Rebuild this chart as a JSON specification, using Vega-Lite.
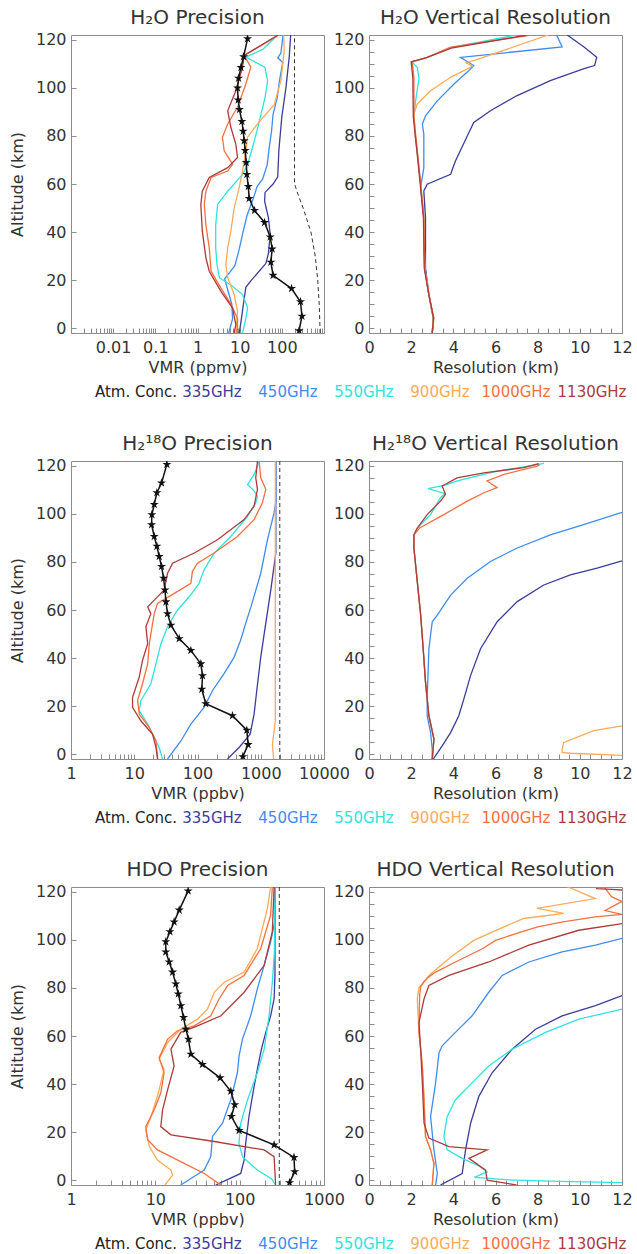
{
"$schema": "https://vega.github.io/schema/vega-lite/v6.json",
"background": "white",
"padding": {"left": 8, "right": 0, "top": 7, "bottom": 2},
"config": {
 "font": "DejaVu Sans",
 "view": {"stroke": "#8c8c8c", "strokeWidth": 1},
 "axis": {"domain": false, "grid": false, "tickColor": "#8c8c8c", "tickWidth": 1, "tickSize": -5, "labelPadding": 10, "labelFontSize": 16, "labelColor": "#333333", "titleFontSize": 16, "titleFontWeight": "normal", "titleColor": "#333333", "labelOverlap": false, "labelFlush": false},
 "title": {"fontSize": 20, "fontWeight": "normal", "color": "#333333", "offset": 4, "frame": "group"}
},
"datasets": {
 "h2oP": [
  {"series":"335GHz","alt":-2,"val":9.8},{"series":"335GHz","alt":4,"val":11},{"series":"335GHz","alt":11,"val":12.5},{"series":"335GHz","alt":17,"val":14},{"series":"335GHz","alt":20,"val":19},{"series":"335GHz","alt":24,"val":30},{"series":"335GHz","alt":27,"val":42},{"series":"335GHz","alt":31,"val":48},{"series":"335GHz","alt":39,"val":53},{"series":"335GHz","alt":46,"val":48},{"series":"335GHz","alt":53,"val":39},{"series":"335GHz","alt":56.5,"val":40},{"series":"335GHz","alt":60,"val":62},{"series":"335GHz","alt":63,"val":80},{"series":"335GHz","alt":74,"val":85},{"series":"335GHz","alt":88,"val":100},{"series":"335GHz","alt":100,"val":125},{"series":"335GHz","alt":113,"val":150},{"series":"335GHz","alt":122,"val":162},
  {"series":"450GHz","alt":-2,"val":5.5},{"series":"450GHz","alt":4,"val":6.8},{"series":"450GHz","alt":10,"val":6.5},{"series":"450GHz","alt":16,"val":5.2},{"series":"450GHz","alt":20.5,"val":4.4},{"series":"450GHz","alt":26,"val":7.7},{"series":"450GHz","alt":33,"val":9.8},{"series":"450GHz","alt":40,"val":12},{"series":"450GHz","alt":47,"val":15},{"series":"450GHz","alt":54,"val":21},{"series":"450GHz","alt":59,"val":26},{"series":"450GHz","alt":62,"val":35},{"series":"450GHz","alt":68,"val":45},{"series":"450GHz","alt":75,"val":50},{"series":"450GHz","alt":82,"val":57},{"series":"450GHz","alt":89,"val":62},{"series":"450GHz","alt":96,"val":78},{"series":"450GHz","alt":103,"val":88},{"series":"450GHz","alt":110.6,"val":105},{"series":"450GHz","alt":112.5,"val":80},{"series":"450GHz","alt":114.5,"val":95},{"series":"450GHz","alt":122,"val":107},
  {"series":"550GHz","alt":-2,"val":11.7},{"series":"550GHz","alt":4,"val":14},{"series":"550GHz","alt":8.5,"val":15.4},{"series":"550GHz","alt":14,"val":11.7},{"series":"550GHz","alt":18,"val":6.2},{"series":"550GHz","alt":21,"val":3.3},{"series":"550GHz","alt":26.5,"val":2.9},{"series":"550GHz","alt":33.5,"val":2.7},{"series":"550GHz","alt":43,"val":2.7},{"series":"550GHz","alt":51.5,"val":3},{"series":"550GHz","alt":57,"val":5.2},{"series":"550GHz","alt":64,"val":11.7},{"series":"550GHz","alt":68,"val":15.4},{"series":"550GHz","alt":75,"val":20},{"series":"550GHz","alt":82,"val":25.6},{"series":"550GHz","alt":89,"val":32},{"series":"550GHz","alt":96,"val":40},{"series":"550GHz","alt":103,"val":46},{"series":"550GHz","alt":108.6,"val":39.6},{"series":"550GHz","alt":112.8,"val":14},{"series":"550GHz","alt":116,"val":35},{"series":"550GHz","alt":122,"val":80},
  {"series":"900GHz","alt":-2,"val":8.1},{"series":"900GHz","alt":7,"val":8.9},{"series":"900GHz","alt":14,"val":7.4},{"series":"900GHz","alt":21,"val":5.2},{"series":"900GHz","alt":26.5,"val":4.7},{"series":"900GHz","alt":33.5,"val":5.2},{"series":"900GHz","alt":40.5,"val":6.2},{"series":"900GHz","alt":50,"val":7.4},{"series":"900GHz","alt":58.5,"val":9.75},{"series":"900GHz","alt":65.5,"val":11.7},{"series":"900GHz","alt":74,"val":14},{"series":"900GHz","alt":79.5,"val":15.4},{"series":"900GHz","alt":85,"val":26.5},{"series":"900GHz","alt":93,"val":66},{"series":"900GHz","alt":103,"val":95},{"series":"900GHz","alt":115.5,"val":114},{"series":"900GHz","alt":122,"val":110},
  {"series":"1000GHz","alt":-2,"val":8.9},{"series":"1000GHz","alt":4,"val":8.9},{"series":"1000GHz","alt":10,"val":6.2},{"series":"1000GHz","alt":16.7,"val":3.6},{"series":"1000GHz","alt":23.7,"val":2.1},{"series":"1000GHz","alt":33.4,"val":1.9},{"series":"1000GHz","alt":43,"val":1.58},{"series":"1000GHz","alt":51.5,"val":1.45},{"series":"1000GHz","alt":57,"val":1.58},{"series":"1000GHz","alt":62.7,"val":2.1},{"series":"1000GHz","alt":65.4,"val":5.2},{"series":"1000GHz","alt":68.2,"val":6.8},{"series":"1000GHz","alt":73.8,"val":4.3},{"series":"1000GHz","alt":79.4,"val":3.9},{"series":"1000GHz","alt":85,"val":5.2},{"series":"1000GHz","alt":92,"val":8.9},{"series":"1000GHz","alt":101.6,"val":14},{"series":"1000GHz","alt":108.6,"val":18.4},{"series":"1000GHz","alt":113.5,"val":12.8},{"series":"1000GHz","alt":122,"val":85},
  {"series":"1130GHz","alt":-2,"val":7.4},{"series":"1130GHz","alt":1.5,"val":8.1},{"series":"1130GHz","alt":8.4,"val":6.8},{"series":"1130GHz","alt":15.3,"val":3.6},{"series":"1130GHz","alt":23.7,"val":1.9},{"series":"1130GHz","alt":29.3,"val":1.58},{"series":"1130GHz","alt":40.4,"val":1.3},{"series":"1130GHz","alt":51.5,"val":1.2},{"series":"1130GHz","alt":57,"val":1.3},{"series":"1130GHz","alt":62.7,"val":1.9},{"series":"1130GHz","alt":66.8,"val":5.2},{"series":"1130GHz","alt":71,"val":8.9},{"series":"1130GHz","alt":76.6,"val":8.1},{"series":"1130GHz","alt":83.5,"val":6.2},{"series":"1130GHz","alt":90.5,"val":5.2},{"series":"1130GHz","alt":98.8,"val":8.1},{"series":"1130GHz","alt":108.6,"val":11.7},{"series":"1130GHz","alt":113.5,"val":12.8},{"series":"1130GHz","alt":122,"val":82},
  {"series":"ref","alt":-2,"val":810},{"series":"ref","alt":10,"val":770},{"series":"ref","alt":20,"val":710},{"series":"ref","alt":30,"val":620},{"series":"ref","alt":40,"val":490},{"series":"ref","alt":50,"val":320},{"series":"ref","alt":55,"val":250},{"series":"ref","alt":60,"val":200},{"series":"ref","alt":122,"val":200},
  {"series":"Atm. Conc.","alt":-1,"val":257},{"series":"Atm. Conc.","alt":5,"val":300},{"series":"Atm. Conc.","alt":11,"val":277},{"series":"Atm. Conc.","alt":16.5,"val":170},{"series":"Atm. Conc.","alt":22,"val":62},{"series":"Atm. Conc.","alt":27.5,"val":55},{"series":"Atm. Conc.","alt":33,"val":59},{"series":"Atm. Conc.","alt":38,"val":53},{"series":"Atm. Conc.","alt":44,"val":39},{"series":"Atm. Conc.","alt":49,"val":22.5},{"series":"Atm. Conc.","alt":54,"val":16.8},{"series":"Atm. Conc.","alt":59,"val":16},{"series":"Atm. Conc.","alt":64,"val":14.8},{"series":"Atm. Conc.","alt":69,"val":14.3},{"series":"Atm. Conc.","alt":74,"val":13.5},{"series":"Atm. Conc.","alt":78,"val":12.8},{"series":"Atm. Conc.","alt":82,"val":12.1},{"series":"Atm. Conc.","alt":86,"val":11.3},{"series":"Atm. Conc.","alt":91,"val":9.9},{"series":"Atm. Conc.","alt":95,"val":9.2},{"series":"Atm. Conc.","alt":100,"val":8.9},{"series":"Atm. Conc.","alt":104,"val":9.4},{"series":"Atm. Conc.","alt":108.5,"val":10.7},{"series":"Atm. Conc.","alt":113,"val":12.4},{"series":"Atm. Conc.","alt":120.5,"val":15.4}
 ],
 "h2oR": [
  {"series":"335GHz","alt":-2,"val":3.0},{"series":"335GHz","alt":4.2,"val":3.05},{"series":"335GHz","alt":14,"val":2.84},{"series":"335GHz","alt":25,"val":2.68},{"series":"335GHz","alt":46,"val":2.68},{"series":"335GHz","alt":57.1,"val":2.6},{"series":"335GHz","alt":59.9,"val":2.76},{"series":"335GHz","alt":64,"val":3.87},{"series":"335GHz","alt":66,"val":3.95},{"series":"335GHz","alt":69.6,"val":4.1},{"series":"335GHz","alt":81.4,"val":4.74},{"series":"335GHz","alt":85.6,"val":4.97},{"series":"335GHz","alt":90.5,"val":5.76},{"series":"335GHz","alt":96.7,"val":7.0},{"series":"335GHz","alt":103,"val":8.6},{"series":"335GHz","alt":108,"val":10.2},{"series":"335GHz","alt":109.3,"val":10.7},{"series":"335GHz","alt":112.7,"val":10.8},{"series":"335GHz","alt":117,"val":10.2},{"series":"335GHz","alt":122,"val":9.4},
  {"series":"450GHz","alt":-2,"val":3.0},{"series":"450GHz","alt":4.2,"val":3.05},{"series":"450GHz","alt":14,"val":2.84},{"series":"450GHz","alt":25,"val":2.64},{"series":"450GHz","alt":46,"val":2.6},{"series":"450GHz","alt":58.5,"val":2.45},{"series":"450GHz","alt":66.8,"val":2.6},{"series":"450GHz","alt":80.7,"val":2.6},{"series":"450GHz","alt":84.9,"val":2.53},{"series":"450GHz","alt":88.4,"val":2.68},{"series":"450GHz","alt":94.6,"val":3.24},{"series":"450GHz","alt":101.6,"val":4.03},{"series":"450GHz","alt":107.2,"val":4.74},{"series":"450GHz","alt":109.3,"val":4.97},{"series":"450GHz","alt":112.7,"val":4.34},{"series":"450GHz","alt":117,"val":9.16},{"series":"450GHz","alt":122,"val":8.9},
  {"series":"550GHz","alt":-2,"val":3.0},{"series":"550GHz","alt":4.2,"val":3.05},{"series":"550GHz","alt":14,"val":2.84},{"series":"550GHz","alt":25,"val":2.64},{"series":"550GHz","alt":46,"val":2.6},{"series":"550GHz","alt":60,"val":2.45},{"series":"550GHz","alt":74,"val":2.29},{"series":"550GHz","alt":80,"val":2.2},{"series":"550GHz","alt":88,"val":2.13},{"series":"550GHz","alt":94.6,"val":2.21},{"series":"550GHz","alt":104,"val":2.37},{"series":"550GHz","alt":108.6,"val":2.29},{"series":"550GHz","alt":110.7,"val":2.05},{"series":"550GHz","alt":112.7,"val":2.76},{"series":"550GHz","alt":117,"val":4.0},{"series":"550GHz","alt":122,"val":7.0},
  {"series":"900GHz","alt":-2,"val":3.0},{"series":"900GHz","alt":4.2,"val":3.05},{"series":"900GHz","alt":14,"val":2.84},{"series":"900GHz","alt":25,"val":2.64},{"series":"900GHz","alt":46,"val":2.6},{"series":"900GHz","alt":60,"val":2.45},{"series":"900GHz","alt":80,"val":2.2},{"series":"900GHz","alt":89.1,"val":2.13},{"series":"900GHz","alt":93.3,"val":2.29},{"series":"900GHz","alt":98.8,"val":2.92},{"series":"900GHz","alt":104.4,"val":3.87},{"series":"900GHz","alt":109,"val":4.9},{"series":"900GHz","alt":110.5,"val":4.6},{"series":"900GHz","alt":111.4,"val":5.0},{"series":"900GHz","alt":122,"val":8.5},
  {"series":"1000GHz","alt":-2,"val":3.0},{"series":"1000GHz","alt":4.2,"val":3.08},{"series":"1000GHz","alt":14,"val":2.84},{"series":"1000GHz","alt":25,"val":2.64},{"series":"1000GHz","alt":46,"val":2.6},{"series":"1000GHz","alt":59.9,"val":2.45},{"series":"1000GHz","alt":73.8,"val":2.29},{"series":"1000GHz","alt":88,"val":2.13},{"series":"1000GHz","alt":104.4,"val":2.13},{"series":"1000GHz","alt":110.9,"val":2.05},{"series":"1000GHz","alt":112.7,"val":2.76},{"series":"1000GHz","alt":117,"val":3.87},{"series":"1000GHz","alt":122,"val":7.7},
  {"series":"1130GHz","alt":-2,"val":3.0},{"series":"1130GHz","alt":4.2,"val":3.06},{"series":"1130GHz","alt":14,"val":2.84},{"series":"1130GHz","alt":25,"val":2.62},{"series":"1130GHz","alt":46,"val":2.58},{"series":"1130GHz","alt":59.9,"val":2.43},{"series":"1130GHz","alt":73.8,"val":2.27},{"series":"1130GHz","alt":88,"val":2.1},{"series":"1130GHz","alt":104,"val":2.08},{"series":"1130GHz","alt":110.9,"val":2.0},{"series":"1130GHz","alt":112.5,"val":2.7},{"series":"1130GHz","alt":116.5,"val":3.9},{"series":"1130GHz","alt":122,"val":7.5}
 ],
 "h218oP": [
  {"series":"335GHz","alt":-2,"val":298},{"series":"335GHz","alt":2.8,"val":455},{"series":"335GHz","alt":8.3,"val":680},{"series":"335GHz","alt":16.7,"val":785},{"series":"335GHz","alt":26.5,"val":865},{"series":"335GHz","alt":40.4,"val":1000},{"series":"335GHz","alt":54.4,"val":1200},{"series":"335GHz","alt":68.3,"val":1440},{"series":"335GHz","alt":83.7,"val":1730},{"series":"335GHz","alt":122,"val":1730},
  {"series":"450GHz","alt":-2,"val":33.6},{"series":"450GHz","alt":5.5,"val":54.6},{"series":"450GHz","alt":12.5,"val":78.5},{"series":"450GHz","alt":19.5,"val":127},{"series":"450GHz","alt":26.5,"val":173},{"series":"450GHz","alt":33.5,"val":263},{"series":"450GHz","alt":40.4,"val":380},{"series":"450GHz","alt":47.4,"val":480},{"series":"450GHz","alt":55.8,"val":600},{"series":"450GHz","alt":61.3,"val":700},{"series":"450GHz","alt":75.3,"val":1000},{"series":"450GHz","alt":89.2,"val":1275},{"series":"450GHz","alt":100.4,"val":1625},{"series":"450GHz","alt":105,"val":1730},{"series":"450GHz","alt":122,"val":1730},
  {"series":"550GHz","alt":-2,"val":28},{"series":"550GHz","alt":2.8,"val":24.8},{"series":"550GHz","alt":7,"val":20.7},{"series":"550GHz","alt":12.5,"val":16.3},{"series":"550GHz","alt":18.1,"val":12},{"series":"550GHz","alt":22.3,"val":12.7},{"series":"550GHz","alt":29.3,"val":18.3},{"series":"550GHz","alt":37.6,"val":22},{"series":"550GHz","alt":46,"val":26.4},{"series":"550GHz","alt":53,"val":33.6},{"series":"550GHz","alt":59.9,"val":48},{"series":"550GHz","alt":65.5,"val":74},{"series":"550GHz","alt":71.1,"val":106},{"series":"550GHz","alt":76.7,"val":127},{"series":"550GHz","alt":83.7,"val":183},{"series":"550GHz","alt":90.6,"val":336},{"series":"550GHz","alt":99,"val":617},{"series":"550GHz","alt":104.6,"val":834},{"series":"550GHz","alt":107.4,"val":887},{"series":"550GHz","alt":110,"val":760},{"series":"550GHz","alt":112.2,"val":617},{"series":"550GHz","alt":116.4,"val":785},{"series":"550GHz","alt":122,"val":950},
  {"series":"900GHz","alt":-2,"val":1600},{"series":"900GHz","alt":4,"val":1530},{"series":"900GHz","alt":9.7,"val":1625},{"series":"900GHz","alt":14,"val":1700},{"series":"900GHz","alt":122,"val":1700},
  {"series":"1000GHz","alt":-2,"val":23.4},{"series":"1000GHz","alt":5.6,"val":22},{"series":"1000GHz","alt":11.1,"val":17.3},{"series":"1000GHz","alt":16.7,"val":12},{"series":"1000GHz","alt":22.3,"val":11.3},{"series":"1000GHz","alt":29.3,"val":13.5},{"series":"1000GHz","alt":37.6,"val":16.3},{"series":"1000GHz","alt":46,"val":17.3},{"series":"1000GHz","alt":54.4,"val":19.5},{"series":"1000GHz","alt":58.5,"val":20.7},{"series":"1000GHz","alt":62.7,"val":23.3},{"series":"1000GHz","alt":66.9,"val":43},{"series":"1000GHz","alt":71.1,"val":78.5},{"series":"1000GHz","alt":76,"val":83},{"series":"1000GHz","alt":79.5,"val":100},{"series":"1000GHz","alt":83.7,"val":183},{"series":"1000GHz","alt":90.6,"val":428},{"series":"1000GHz","alt":97.6,"val":785},{"series":"1000GHz","alt":104.6,"val":1062},{"series":"1000GHz","alt":110.2,"val":1200},{"series":"1000GHz","alt":115,"val":1000},{"series":"1000GHz","alt":122,"val":942},
  {"series":"1130GHz","alt":-2,"val":23.4},{"series":"1130GHz","alt":2.8,"val":22},{"series":"1130GHz","alt":8.3,"val":19.5},{"series":"1130GHz","alt":13.9,"val":12.7},{"series":"1130GHz","alt":19.5,"val":9.4},{"series":"1130GHz","alt":23.7,"val":9.4},{"series":"1130GHz","alt":32.1,"val":12},{"series":"1130GHz","alt":39,"val":13.5},{"series":"1130GHz","alt":46,"val":16.3},{"series":"1130GHz","alt":53,"val":15.3},{"series":"1130GHz","alt":58.5,"val":18.3},{"series":"1130GHz","alt":61.3,"val":16.3},{"series":"1130GHz","alt":64.1,"val":20.7},{"series":"1130GHz","alt":68.3,"val":29.8},{"series":"1130GHz","alt":75.3,"val":33.6},{"series":"1130GHz","alt":79.5,"val":40.4},{"series":"1130GHz","alt":83.7,"val":89},{"series":"1130GHz","alt":89.2,"val":207},{"series":"1130GHz","alt":97.6,"val":546},{"series":"1130GHz","alt":103.2,"val":785},{"series":"1130GHz","alt":110.2,"val":887},{"series":"1130GHz","alt":115,"val":834},{"series":"1130GHz","alt":122,"val":887},
  {"series":"ref","alt":-2,"val":2000},{"series":"ref","alt":122,"val":2000},
  {"series":"Atm. Conc.","alt":-1,"val":520},{"series":"Atm. Conc.","alt":4,"val":632},{"series":"Atm. Conc.","alt":10,"val":602},{"series":"Atm. Conc.","alt":16,"val":357},{"series":"Atm. Conc.","alt":21,"val":135},{"series":"Atm. Conc.","alt":27,"val":117},{"series":"Atm. Conc.","alt":32.7,"val":120},{"series":"Atm. Conc.","alt":37.6,"val":113},{"series":"Atm. Conc.","alt":43.2,"val":78.5},{"series":"Atm. Conc.","alt":48.1,"val":51.4},{"series":"Atm. Conc.","alt":53.7,"val":38},{"series":"Atm. Conc.","alt":58.5,"val":33.6},{"series":"Atm. Conc.","alt":63.4,"val":31.7},{"series":"Atm. Conc.","alt":68.3,"val":30.6},{"series":"Atm. Conc.","alt":73.2,"val":29.1},{"series":"Atm. Conc.","alt":78.1,"val":27},{"series":"Atm. Conc.","alt":82.3,"val":24.8},{"series":"Atm. Conc.","alt":86.5,"val":22.8},{"series":"Atm. Conc.","alt":90.6,"val":20.7},{"series":"Atm. Conc.","alt":95.5,"val":18.8},{"series":"Atm. Conc.","alt":99.7,"val":19},{"series":"Atm. Conc.","alt":103.9,"val":20.7},{"series":"Atm. Conc.","alt":108.8,"val":22.8},{"series":"Atm. Conc.","alt":112.9,"val":27},{"series":"Atm. Conc.","alt":120.6,"val":32.8}
 ],
 "h218oR": [
  {"series":"335GHz","alt":-2,"val":3.05},{"series":"335GHz","alt":3.5,"val":3.47},{"series":"335GHz","alt":9,"val":3.87},{"series":"335GHz","alt":16,"val":4.26},{"series":"335GHz","alt":23,"val":4.5},{"series":"335GHz","alt":32.8,"val":4.82},{"series":"335GHz","alt":43.9,"val":5.29},{"series":"335GHz","alt":55.1,"val":6.08},{"series":"335GHz","alt":63.5,"val":7.03},{"series":"335GHz","alt":70.4,"val":8.29},{"series":"335GHz","alt":74.6,"val":9.55},{"series":"335GHz","alt":77.4,"val":10.82},{"series":"335GHz","alt":80.2,"val":11.92},{"series":"335GHz","alt":81.5,"val":12.5},
  {"series":"450GHz","alt":-2,"val":3.0},{"series":"450GHz","alt":2.1,"val":3.0},{"series":"450GHz","alt":9,"val":2.92},{"series":"450GHz","alt":16,"val":2.76},{"series":"450GHz","alt":23,"val":2.76},{"series":"450GHz","alt":43.9,"val":2.84},{"series":"450GHz","alt":55.1,"val":3.0},{"series":"450GHz","alt":57.9,"val":3.24},{"series":"450GHz","alt":66.2,"val":3.87},{"series":"450GHz","alt":73.2,"val":4.66},{"series":"450GHz","alt":80.2,"val":5.76},{"series":"450GHz","alt":85.8,"val":7.03},{"series":"450GHz","alt":91.3,"val":8.6},{"series":"450GHz","alt":95.5,"val":10.18},{"series":"450GHz","alt":100.4,"val":11.92},{"series":"450GHz","alt":101,"val":12.5},
  {"series":"550GHz","alt":-2,"val":3.0},{"series":"550GHz","alt":6.3,"val":3.08},{"series":"550GHz","alt":16,"val":2.84},{"series":"550GHz","alt":30,"val":2.68},{"series":"550GHz","alt":43.9,"val":2.57},{"series":"550GHz","alt":57.9,"val":2.45},{"series":"550GHz","alt":71.8,"val":2.29},{"series":"550GHz","alt":85.8,"val":2.13},{"series":"550GHz","alt":91.3,"val":2.13},{"series":"550GHz","alt":94.1,"val":2.29},{"series":"550GHz","alt":99.7,"val":2.92},{"series":"550GHz","alt":106.7,"val":3.39},{"series":"550GHz","alt":108.5,"val":3.6},{"series":"550GHz","alt":110.5,"val":2.8},{"series":"550GHz","alt":112,"val":3.6},{"series":"550GHz","alt":113.7,"val":4.18},{"series":"550GHz","alt":117.8,"val":6.08},{"series":"550GHz","alt":120.6,"val":8.05},{"series":"550GHz","alt":121,"val":8.3},
  {"series":"900GHz","alt":14,"val":12.5},{"series":"900GHz","alt":11.8,"val":12.0},{"series":"900GHz","alt":9.8,"val":10.66},{"series":"900GHz","alt":4.9,"val":9.24},{"series":"900GHz","alt":2.1,"val":9.16},{"series":"900GHz","alt":0.7,"val":9.16},{"series":"900GHz","alt":0.4,"val":9.55},{"series":"900GHz","alt":-0.5,"val":12.0},{"series":"900GHz","alt":-0.7,"val":12.5},
  {"series":"1000GHz","alt":-2,"val":3.0},{"series":"1000GHz","alt":6.3,"val":3.08},{"series":"1000GHz","alt":16,"val":2.84},{"series":"1000GHz","alt":30,"val":2.68},{"series":"1000GHz","alt":43.9,"val":2.57},{"series":"1000GHz","alt":57.9,"val":2.45},{"series":"1000GHz","alt":71.8,"val":2.29},{"series":"1000GHz","alt":85.8,"val":2.13},{"series":"1000GHz","alt":91.3,"val":2.13},{"series":"1000GHz","alt":94.1,"val":2.4},{"series":"1000GHz","alt":99.7,"val":3.55},{"series":"1000GHz","alt":105.3,"val":4.66},{"series":"1000GHz","alt":108.8,"val":5.45},{"series":"1000GHz","alt":110.9,"val":6.08},{"series":"1000GHz","alt":113.7,"val":5.6},{"series":"1000GHz","alt":116.4,"val":6.4},{"series":"1000GHz","alt":119.9,"val":7.97},{"series":"1000GHz","alt":120.5,"val":8.1},
  {"series":"1130GHz","alt":-2,"val":3.0},{"series":"1130GHz","alt":6.3,"val":3.08},{"series":"1130GHz","alt":16,"val":2.84},{"series":"1130GHz","alt":30,"val":2.68},{"series":"1130GHz","alt":43.9,"val":2.57},{"series":"1130GHz","alt":57.9,"val":2.45},{"series":"1130GHz","alt":71.8,"val":2.29},{"series":"1130GHz","alt":85.8,"val":2.13},{"series":"1130GHz","alt":91.3,"val":2.13},{"series":"1130GHz","alt":94.1,"val":2.29},{"series":"1130GHz","alt":99.7,"val":2.76},{"series":"1130GHz","alt":105.3,"val":3.39},{"series":"1130GHz","alt":108.1,"val":3.63},{"series":"1130GHz","alt":111.6,"val":3.47},{"series":"1130GHz","alt":115,"val":4.18},{"series":"1130GHz","alt":117.1,"val":5.45},{"series":"1130GHz","alt":119.2,"val":7.34},{"series":"1130GHz","alt":120.9,"val":8.05}
 ],
 "hdoP": [
  {"series":"335GHz","alt":-2,"val":52},{"series":"335GHz","alt":2.8,"val":103},{"series":"335GHz","alt":8.4,"val":113},{"series":"335GHz","alt":15.4,"val":118},{"series":"335GHz","alt":26.5,"val":129},{"series":"335GHz","alt":37.7,"val":146},{"series":"335GHz","alt":46.1,"val":162},{"series":"335GHz","alt":54.5,"val":181},{"series":"335GHz","alt":61.5,"val":204},{"series":"335GHz","alt":68.4,"val":233},{"series":"335GHz","alt":75.4,"val":256},{"series":"335GHz","alt":85,"val":262},{"series":"335GHz","alt":122,"val":262},
  {"series":"450GHz","alt":-2,"val":20},{"series":"450GHz","alt":0.7,"val":26.4},{"series":"450GHz","alt":4.2,"val":38},{"series":"450GHz","alt":9.8,"val":45.5},{"series":"450GHz","alt":18.2,"val":47.6},{"series":"450GHz","alt":23.7,"val":62.6},{"series":"450GHz","alt":33.5,"val":78.5},{"series":"450GHz","alt":44.7,"val":94},{"series":"450GHz","alt":51.7,"val":98.4},{"series":"450GHz","alt":58.7,"val":108},{"series":"450GHz","alt":68.4,"val":135},{"series":"450GHz","alt":79.6,"val":162},{"series":"450GHz","alt":89.4,"val":195},{"series":"450GHz","alt":99.2,"val":233},{"series":"450GHz","alt":108,"val":262},{"series":"450GHz","alt":122,"val":262},
  {"series":"550GHz","alt":-2,"val":267},{"series":"550GHz","alt":0.5,"val":240},{"series":"550GHz","alt":4.2,"val":162},{"series":"550GHz","alt":9.8,"val":108},{"series":"550GHz","alt":15.4,"val":98},{"series":"550GHz","alt":23.7,"val":103},{"series":"550GHz","alt":33.5,"val":124},{"series":"550GHz","alt":44.7,"val":162},{"series":"550GHz","alt":54.5,"val":195},{"series":"550GHz","alt":68.4,"val":223},{"series":"550GHz","alt":82.4,"val":244},{"series":"550GHz","alt":95,"val":258},{"series":"550GHz","alt":122,"val":262},
  {"series":"900GHz","alt":-2,"val":13},{"series":"900GHz","alt":2.1,"val":16},{"series":"900GHz","alt":4.2,"val":15.3},{"series":"900GHz","alt":8.4,"val":10.6},{"series":"900GHz","alt":14,"val":8.5},{"series":"900GHz","alt":20.9,"val":7.7},{"series":"900GHz","alt":26.5,"val":8.9},{"series":"900GHz","alt":34.9,"val":10.6},{"series":"900GHz","alt":46.1,"val":12.7},{"series":"900GHz","alt":50.3,"val":11.1},{"series":"900GHz","alt":57.3,"val":14},{"series":"900GHz","alt":62.8,"val":20},{"series":"900GHz","alt":67,"val":31.6},{"series":"900GHz","alt":71.2,"val":41.5},{"series":"900GHz","alt":78.2,"val":50},{"series":"900GHz","alt":82.4,"val":65.5},{"series":"900GHz","alt":86.6,"val":113},{"series":"900GHz","alt":96.4,"val":162},{"series":"900GHz","alt":113,"val":213},{"series":"900GHz","alt":122,"val":233},
  {"series":"1000GHz","alt":-2,"val":60},{"series":"1000GHz","alt":2.8,"val":38},{"series":"1000GHz","alt":7,"val":22},{"series":"1000GHz","alt":12.6,"val":10.6},{"series":"1000GHz","alt":16.8,"val":8.1},{"series":"1000GHz","alt":22.3,"val":7.7},{"series":"1000GHz","alt":29.3,"val":9.7},{"series":"1000GHz","alt":36.3,"val":11.6},{"series":"1000GHz","alt":44.7,"val":12.7},{"series":"1000GHz","alt":51,"val":11.1},{"series":"1000GHz","alt":58.7,"val":14},{"series":"1000GHz","alt":62.2,"val":18.3},{"series":"1000GHz","alt":64.2,"val":28.9},{"series":"1000GHz","alt":68.4,"val":45.5},{"series":"1000GHz","alt":75.4,"val":57},{"series":"1000GHz","alt":81,"val":72},{"series":"1000GHz","alt":85.2,"val":113},{"series":"1000GHz","alt":96.4,"val":178},{"series":"1000GHz","alt":110.3,"val":233},{"series":"1000GHz","alt":122,"val":244},
  {"series":"1130GHz","alt":-2,"val":267},{"series":"1130GHz","alt":9.8,"val":256},{"series":"1130GHz","alt":12.6,"val":195},{"series":"1130GHz","alt":16.1,"val":50},{"series":"1130GHz","alt":18.9,"val":15.3},{"series":"1130GHz","alt":22.3,"val":11.6},{"series":"1130GHz","alt":29.3,"val":12.2},{"series":"1130GHz","alt":37.7,"val":14},{"series":"1130GHz","alt":47.5,"val":16.7},{"series":"1130GHz","alt":54.5,"val":15.3},{"series":"1130GHz","alt":61.5,"val":20},{"series":"1130GHz","alt":64.2,"val":31.6},{"series":"1130GHz","alt":68.4,"val":60},{"series":"1130GHz","alt":78.2,"val":113},{"series":"1130GHz","alt":89.4,"val":195},{"series":"1130GHz","alt":103.4,"val":244},{"series":"1130GHz","alt":122,"val":256},
  {"series":"ref","alt":-2,"val":295},{"series":"ref","alt":122,"val":295},
  {"series":"Atm. Conc.","alt":-1,"val":390},{"series":"Atm. Conc.","alt":3.5,"val":449},{"series":"Atm. Conc.","alt":9.5,"val":441},{"series":"Atm. Conc.","alt":14.7,"val":256},{"series":"Atm. Conc.","alt":20.7,"val":98.4},{"series":"Atm. Conc.","alt":26.5,"val":79.8},{"series":"Atm. Conc.","alt":31.4,"val":87.5},{"series":"Atm. Conc.","alt":37,"val":78.5},{"series":"Atm. Conc.","alt":42.6,"val":58.6},{"series":"Atm. Conc.","alt":48.2,"val":36.2},{"series":"Atm. Conc.","alt":52.4,"val":26.4},{"series":"Atm. Conc.","alt":58.7,"val":24.7},{"series":"Atm. Conc.","alt":62.8,"val":23},{"series":"Atm. Conc.","alt":67.7,"val":21.6},{"series":"Atm. Conc.","alt":72.6,"val":20.1},{"series":"Atm. Conc.","alt":77.5,"val":18.7},{"series":"Atm. Conc.","alt":81.7,"val":17.5},{"series":"Atm. Conc.","alt":86.6,"val":16},{"series":"Atm. Conc.","alt":90.8,"val":14.6},{"series":"Atm. Conc.","alt":95,"val":13.3},{"series":"Atm. Conc.","alt":99.2,"val":13.3},{"series":"Atm. Conc.","alt":103.4,"val":14.9},{"series":"Atm. Conc.","alt":107.5,"val":16.7},{"series":"Atm. Conc.","alt":112.4,"val":19.2},{"series":"Atm. Conc.","alt":120.4,"val":24.5}
 ],
 "hdoR": [
  {"series":"335GHz","alt":-2,"val":3.39},{"series":"335GHz","alt":2.8,"val":4.42},{"series":"335GHz","alt":12.6,"val":4.58},{"series":"335GHz","alt":23.7,"val":4.82},{"series":"335GHz","alt":34.9,"val":5.21},{"series":"335GHz","alt":44.7,"val":5.84},{"series":"335GHz","alt":54.5,"val":6.79},{"series":"335GHz","alt":62.8,"val":7.9},{"series":"335GHz","alt":68.4,"val":9.16},{"series":"335GHz","alt":72.6,"val":10.74},{"series":"335GHz","alt":76.8,"val":12.0},{"series":"335GHz","alt":78,"val":12.5},
  {"series":"450GHz","alt":-2,"val":3.16},{"series":"450GHz","alt":2.8,"val":3.24},{"series":"450GHz","alt":12.6,"val":3.08},{"series":"450GHz","alt":26.5,"val":2.92},{"series":"450GHz","alt":40.5,"val":3.16},{"series":"450GHz","alt":53,"val":3.32},{"series":"450GHz","alt":55.9,"val":3.47},{"series":"450GHz","alt":61.5,"val":4.1},{"series":"450GHz","alt":68.4,"val":4.89},{"series":"450GHz","alt":78.2,"val":5.68},{"series":"450GHz","alt":85.2,"val":6.32},{"series":"450GHz","alt":90.8,"val":7.58},{"series":"450GHz","alt":95,"val":9.16},{"series":"450GHz","alt":97.8,"val":10.74},{"series":"450GHz","alt":100.6,"val":12.0},{"series":"450GHz","alt":101.5,"val":12.5},
  {"series":"550GHz","alt":-1.2,"val":12.5},{"series":"550GHz","alt":-1,"val":12},{"series":"550GHz","alt":-0.5,"val":9},{"series":"550GHz","alt":0.2,"val":6.5},{"series":"550GHz","alt":1.2,"val":5.0},{"series":"550GHz","alt":3.5,"val":5.6},{"series":"550GHz","alt":6,"val":5.2},{"series":"550GHz","alt":9.1,"val":4.42},{"series":"550GHz","alt":12.6,"val":3.71},{"series":"550GHz","alt":18.2,"val":3.55},{"series":"550GHz","alt":26.5,"val":3.71},{"series":"550GHz","alt":33.5,"val":4.1},{"series":"550GHz","alt":40.5,"val":4.89},{"series":"550GHz","alt":47.5,"val":5.68},{"series":"550GHz","alt":54.5,"val":6.79},{"series":"550GHz","alt":61.5,"val":8.37},{"series":"550GHz","alt":67,"val":9.95},{"series":"550GHz","alt":71.2,"val":12.0},{"series":"550GHz","alt":72,"val":12.5},
  {"series":"900GHz","alt":-2,"val":3.0},{"series":"900GHz","alt":7,"val":3.08},{"series":"900GHz","alt":12.6,"val":2.92},{"series":"900GHz","alt":18.2,"val":2.68},{"series":"900GHz","alt":33.5,"val":2.61},{"series":"900GHz","alt":47.5,"val":2.53},{"series":"900GHz","alt":61.5,"val":2.37},{"series":"900GHz","alt":75.4,"val":2.29},{"series":"900GHz","alt":80.2,"val":2.37},{"series":"900GHz","alt":85.8,"val":2.92},{"series":"900GHz","alt":92.8,"val":3.87},{"series":"900GHz","alt":99.8,"val":4.97},{"series":"900GHz","alt":105.4,"val":6.4},{"series":"900GHz","alt":108.9,"val":7.34},{"series":"900GHz","alt":111,"val":9.24},{"series":"900GHz","alt":113.1,"val":7.97},{"series":"900GHz","alt":117.2,"val":10.73},{"series":"900GHz","alt":121.9,"val":9.47},{"series":"900GHz","alt":122.5,"val":9.3},
  {"series":"1000GHz","alt":-2,"val":3.0},{"series":"1000GHz","alt":7,"val":3.08},{"series":"1000GHz","alt":12.6,"val":2.92},{"series":"1000GHz","alt":18.2,"val":2.68},{"series":"1000GHz","alt":33.5,"val":2.61},{"series":"1000GHz","alt":47.5,"val":2.53},{"series":"1000GHz","alt":61.5,"val":2.37},{"series":"1000GHz","alt":76.8,"val":2.4},{"series":"1000GHz","alt":80.5,"val":2.45},{"series":"1000GHz","alt":82.4,"val":2.6},{"series":"1000GHz","alt":84.4,"val":2.8},{"series":"1000GHz","alt":86.6,"val":3.16},{"series":"1000GHz","alt":90.8,"val":4.1},{"series":"1000GHz","alt":96.4,"val":5.4},{"series":"1000GHz","alt":99.8,"val":6.0},{"series":"1000GHz","alt":103.4,"val":7.26},{"series":"1000GHz","alt":105.4,"val":8},{"series":"1000GHz","alt":107.5,"val":9.2},{"series":"1000GHz","alt":109.6,"val":10.74},{"series":"1000GHz","alt":110.6,"val":12},{"series":"1000GHz","alt":112.2,"val":11.2},{"series":"1000GHz","alt":116,"val":12},{"series":"1000GHz","alt":118,"val":11.5},{"series":"1000GHz","alt":121.5,"val":11.2},{"series":"1000GHz","alt":122.5,"val":11},
  {"series":"1130GHz","alt":-2,"val":7.0},{"series":"1130GHz","alt":0,"val":5.6},{"series":"1130GHz","alt":4.2,"val":5.53},{"series":"1130GHz","alt":9.1,"val":4.74},{"series":"1130GHz","alt":12.6,"val":5.6},{"series":"1130GHz","alt":14,"val":3.79},{"series":"1130GHz","alt":17.5,"val":2.84},{"series":"1130GHz","alt":23.7,"val":2.61},{"series":"1130GHz","alt":40.5,"val":2.53},{"series":"1130GHz","alt":54.5,"val":2.45},{"series":"1130GHz","alt":65.6,"val":2.37},{"series":"1130GHz","alt":75.4,"val":2.61},{"series":"1130GHz","alt":81,"val":2.84},{"series":"1130GHz","alt":85.2,"val":3.79},{"series":"1130GHz","alt":90.8,"val":5.68},{"series":"1130GHz","alt":97.8,"val":7.58},{"series":"1130GHz","alt":104,"val":9.95},{"series":"1130GHz","alt":106.8,"val":12},{"series":"1130GHz","alt":107.5,"val":12.5},{"series":"1130GHz","alt":115,"val":13},{"series":"1130GHz","alt":120.5,"val":12.5},{"series":"1130GHz","alt":121,"val":11.5},{"series":"1130GHz","alt":121.3,"val":10.8},{"series":"1130GHz","alt":121.6,"val":10.8}
 ],
 "legendItems": [
  {"series":"Atm. Conc."},{"series":"335GHz"},{"series":"450GHz"},{"series":"550GHz"},{"series":"900GHz"},{"series":"1000GHz"},{"series":"1130GHz"}
 ]
},
"spacing": 33,
"vconcat": [
 {"spacing": 8, "vconcat": [
  {"spacing": 45, "bounds": "flush", "hconcat": [
   {"title": "H₂O Precision", "width": 253, "height": 298, "data": {"name": "h2oP"},
    "layer": [
     {"transform": [{"filter": "datum.series != 'Atm. Conc.' && datum.series != 'ref'"}],
      "mark": {"type": "line", "clip": true, "strokeWidth": 1.3},
      "encoding": {
       "x": {"field": "val", "type": "quantitative", "scale": {"type": "log", "domain": [0.001, 1000]}, "axis": {"title": "VMR (ppmv)", "values": [0.001,0.002,0.003,0.004,0.005,0.006,0.007,0.008,0.009,0.01,0.02,0.03,0.04,0.05,0.06,0.07,0.08,0.09,0.1,0.2,0.3,0.4,0.5,0.6,0.7,0.8,0.9,1,2,3,4,5,6,7,8,9,10,20,30,40,50,60,70,80,90,100,200,300,400,500,600,700,800,900,1000], "format": "~g", "labelExpr": "(datum.value > 0.005 && datum.value < 500 && abs(log(datum.value)/LN10 - round(log(datum.value)/LN10)) < 0.001) ? datum.label : ''", "labelPadding": 11, "titlePadding": 4}},
       "y": {"field": "alt", "type": "quantitative", "scale": {"domain": [-2, 122]}, "axis": {"title": "Altitude (km)", "values": [0,5,10,15,20,25,30,35,40,45,50,55,60,65,70,75,80,85,90,95,100,105,110,115,120], "labelExpr": "datum.value % 20 == 0 ? datum.label : ''", "titlePadding": 10}},
       "color": {"field": "series", "type": "nominal", "scale": {"domain": ["Atm. Conc.","335GHz","450GHz","550GHz","900GHz","1000GHz","1130GHz"], "range": ["#222222","#3c3c9c","#3f8cf0","#2fe3e0","#fbab58","#f5703f","#b03a3a"]}, "legend": null},
       "order": {"field": "alt", "type": "quantitative"}}},
     {"transform": [{"filter": "datum.series == 'ref'"}],
      "mark": {"type": "line", "clip": true, "color": "#333333", "strokeDash": [4, 3], "strokeWidth": 1},
      "encoding": {
       "x": {"field": "val", "type": "quantitative", "scale": {"type": "log", "domain": [0.001, 1000]}},
       "y": {"field": "alt", "type": "quantitative", "scale": {"domain": [-2, 122]}},
       "order": {"field": "alt", "type": "quantitative"}}},
     {"transform": [{"filter": "datum.series == 'Atm. Conc.'"}],
      "mark": {"type": "line", "clip": true, "color": "#111111", "strokeWidth": 1.5, "point": {"shape": "M0,-1L0.2245,-0.309L0.951,-0.309L0.3633,0.118L0.5878,0.809L0,0.382L-0.5878,0.809L-0.3633,0.118L-0.951,-0.309L-0.2245,-0.309Z", "filled": true, "size": 90, "color": "#111111"}},
      "encoding": {
       "x": {"field": "val", "type": "quantitative", "scale": {"type": "log", "domain": [0.001, 1000]}},
       "y": {"field": "alt", "type": "quantitative", "scale": {"domain": [-2, 122]}},
       "order": {"field": "alt", "type": "quantitative"}}}
    ]},
   {"title": "H₂O Vertical Resolution", "width": 253, "height": 298, "data": {"name": "h2oR"},
    "mark": {"type": "line", "clip": true, "strokeWidth": 1.3},
    "encoding": {
     "x": {"field": "val", "type": "quantitative", "scale": {"domain": [0, 12]}, "axis": {"title": "Resolution (km)", "values": [0,0.5,1,1.5,2,2.5,3,3.5,4,4.5,5,5.5,6,6.5,7,7.5,8,8.5,9,9.5,10,10.5,11,11.5,12], "format": "~g", "labelExpr": "datum.value % 2 == 0 ? datum.label : ''", "labelPadding": 11, "titlePadding": 4}},
     "y": {"field": "alt", "type": "quantitative", "scale": {"domain": [-2, 122]}, "axis": {"title": null, "values": [0,5,10,15,20,25,30,35,40,45,50,55,60,65,70,75,80,85,90,95,100,105,110,115,120], "labelExpr": "datum.value % 20 == 0 ? datum.label : ''"}},
     "color": {"field": "series", "type": "nominal", "scale": {"domain": ["Atm. Conc.","335GHz","450GHz","550GHz","900GHz","1000GHz","1130GHz"], "range": ["#222222","#3c3c9c","#3f8cf0","#2fe3e0","#fbab58","#f5703f","#b03a3a"]}, "legend": null},
     "order": {"field": "alt", "type": "quantitative"}}}
  ]},
  {"width": 586, "height": 16, "view": {"stroke": null}, "data": {"name": "legendItems"},
   "mark": {"type": "text", "fontSize": 15},
   "encoding": {
    "x": {"field": "series", "type": "nominal", "sort": null, "scale": {"type": "point", "domain": ["Atm. Conc.","335GHz","450GHz","550GHz","900GHz","1000GHz","1130GHz"], "padding": 0.855}, "axis": null},
    "text": {"field": "series"},
    "color": {"field": "series", "type": "nominal", "scale": {"domain": ["Atm. Conc.","335GHz","450GHz","550GHz","900GHz","1000GHz","1130GHz"], "range": ["#222222","#3c3c9c","#3f8cf0","#2fe3e0","#fbab58","#f5703f","#b03a3a"]}, "legend": null}}}
 ]},
 {"spacing": 8, "vconcat": [
  {"spacing": 45, "bounds": "flush", "hconcat": [
   {"title": "H₂¹⁸O Precision", "width": 253, "height": 298, "data": {"name": "h218oP"},
    "layer": [
     {"transform": [{"filter": "datum.series != 'Atm. Conc.' && datum.series != 'ref'"}],
      "mark": {"type": "line", "clip": true, "strokeWidth": 1.3},
      "encoding": {
       "x": {"field": "val", "type": "quantitative", "scale": {"type": "log", "domain": [1, 10000]}, "axis": {"title": "VMR (ppbv)", "values": [1,2,3,4,5,6,7,8,9,10,20,30,40,50,60,70,80,90,100,200,300,400,500,600,700,800,900,1000,2000,3000,4000,5000,6000,7000,8000,9000,10000], "format": "~g", "labelExpr": "abs(log(datum.value)/LN10 - round(log(datum.value)/LN10)) < 0.001 ? datum.label : ''", "labelPadding": 11, "titlePadding": 4}},
       "y": {"field": "alt", "type": "quantitative", "scale": {"domain": [-2, 122]}, "axis": {"title": "Altitude (km)", "values": [0,5,10,15,20,25,30,35,40,45,50,55,60,65,70,75,80,85,90,95,100,105,110,115,120], "labelExpr": "datum.value % 20 == 0 ? datum.label : ''", "titlePadding": 10}},
       "color": {"field": "series", "type": "nominal", "scale": {"domain": ["Atm. Conc.","335GHz","450GHz","550GHz","900GHz","1000GHz","1130GHz"], "range": ["#222222","#3c3c9c","#3f8cf0","#2fe3e0","#fbab58","#f5703f","#b03a3a"]}, "legend": null},
       "order": {"field": "alt", "type": "quantitative"}}},
     {"transform": [{"filter": "datum.series == 'ref'"}],
      "mark": {"type": "line", "clip": true, "color": "#333333", "strokeDash": [4, 3], "strokeWidth": 1},
      "encoding": {
       "x": {"field": "val", "type": "quantitative", "scale": {"type": "log", "domain": [1, 10000]}},
       "y": {"field": "alt", "type": "quantitative", "scale": {"domain": [-2, 122]}},
       "order": {"field": "alt", "type": "quantitative"}}},
     {"transform": [{"filter": "datum.series == 'Atm. Conc.'"}],
      "mark": {"type": "line", "clip": true, "color": "#111111", "strokeWidth": 1.5, "point": {"shape": "M0,-1L0.2245,-0.309L0.951,-0.309L0.3633,0.118L0.5878,0.809L0,0.382L-0.5878,0.809L-0.3633,0.118L-0.951,-0.309L-0.2245,-0.309Z", "filled": true, "size": 90, "color": "#111111"}},
      "encoding": {
       "x": {"field": "val", "type": "quantitative", "scale": {"type": "log", "domain": [1, 10000]}},
       "y": {"field": "alt", "type": "quantitative", "scale": {"domain": [-2, 122]}},
       "order": {"field": "alt", "type": "quantitative"}}}
    ]},
   {"title": "H₂¹⁸O Vertical Resolution", "width": 253, "height": 298, "data": {"name": "h218oR"},
    "mark": {"type": "line", "clip": true, "strokeWidth": 1.3},
    "encoding": {
     "x": {"field": "val", "type": "quantitative", "scale": {"domain": [0, 12]}, "axis": {"title": "Resolution (km)", "values": [0,0.5,1,1.5,2,2.5,3,3.5,4,4.5,5,5.5,6,6.5,7,7.5,8,8.5,9,9.5,10,10.5,11,11.5,12], "format": "~g", "labelExpr": "datum.value % 2 == 0 ? datum.label : ''", "labelPadding": 11, "titlePadding": 4}},
     "y": {"field": "alt", "type": "quantitative", "scale": {"domain": [-2, 122]}, "axis": {"title": null, "values": [0,5,10,15,20,25,30,35,40,45,50,55,60,65,70,75,80,85,90,95,100,105,110,115,120], "labelExpr": "datum.value % 20 == 0 ? datum.label : ''"}},
     "color": {"field": "series", "type": "nominal", "scale": {"domain": ["Atm. Conc.","335GHz","450GHz","550GHz","900GHz","1000GHz","1130GHz"], "range": ["#222222","#3c3c9c","#3f8cf0","#2fe3e0","#fbab58","#f5703f","#b03a3a"]}, "legend": null},
     "order": {"field": "alt", "type": "quantitative"}}}
  ]},
  {"width": 586, "height": 16, "view": {"stroke": null}, "data": {"name": "legendItems"},
   "mark": {"type": "text", "fontSize": 15},
   "encoding": {
    "x": {"field": "series", "type": "nominal", "sort": null, "scale": {"type": "point", "domain": ["Atm. Conc.","335GHz","450GHz","550GHz","900GHz","1000GHz","1130GHz"], "padding": 0.855}, "axis": null},
    "text": {"field": "series"},
    "color": {"field": "series", "type": "nominal", "scale": {"domain": ["Atm. Conc.","335GHz","450GHz","550GHz","900GHz","1000GHz","1130GHz"], "range": ["#222222","#3c3c9c","#3f8cf0","#2fe3e0","#fbab58","#f5703f","#b03a3a"]}, "legend": null}}}
 ]},
 {"spacing": 8, "vconcat": [
  {"spacing": 45, "bounds": "flush", "hconcat": [
   {"title": "HDO Precision", "width": 253, "height": 298, "data": {"name": "hdoP"},
    "layer": [
     {"transform": [{"filter": "datum.series != 'Atm. Conc.' && datum.series != 'ref'"}],
      "mark": {"type": "line", "clip": true, "strokeWidth": 1.3},
      "encoding": {
       "x": {"field": "val", "type": "quantitative", "scale": {"type": "log", "domain": [1, 1000]}, "axis": {"title": "VMR (ppbv)", "values": [1,2,3,4,5,6,7,8,9,10,20,30,40,50,60,70,80,90,100,200,300,400,500,600,700,800,900,1000], "format": "~g", "labelExpr": "abs(log(datum.value)/LN10 - round(log(datum.value)/LN10)) < 0.001 ? datum.label : ''", "labelPadding": 11, "titlePadding": 4}},
       "y": {"field": "alt", "type": "quantitative", "scale": {"domain": [-2, 122]}, "axis": {"title": "Altitude (km)", "values": [0,5,10,15,20,25,30,35,40,45,50,55,60,65,70,75,80,85,90,95,100,105,110,115,120], "labelExpr": "datum.value % 20 == 0 ? datum.label : ''", "titlePadding": 10}},
       "color": {"field": "series", "type": "nominal", "scale": {"domain": ["Atm. Conc.","335GHz","450GHz","550GHz","900GHz","1000GHz","1130GHz"], "range": ["#222222","#3c3c9c","#3f8cf0","#2fe3e0","#fbab58","#f5703f","#b03a3a"]}, "legend": null},
       "order": {"field": "alt", "type": "quantitative"}}},
     {"transform": [{"filter": "datum.series == 'ref'"}],
      "mark": {"type": "line", "clip": true, "color": "#333333", "strokeDash": [4, 3], "strokeWidth": 1},
      "encoding": {
       "x": {"field": "val", "type": "quantitative", "scale": {"type": "log", "domain": [1, 1000]}},
       "y": {"field": "alt", "type": "quantitative", "scale": {"domain": [-2, 122]}},
       "order": {"field": "alt", "type": "quantitative"}}},
     {"transform": [{"filter": "datum.series == 'Atm. Conc.'"}],
      "mark": {"type": "line", "clip": true, "color": "#111111", "strokeWidth": 1.5, "point": {"shape": "M0,-1L0.2245,-0.309L0.951,-0.309L0.3633,0.118L0.5878,0.809L0,0.382L-0.5878,0.809L-0.3633,0.118L-0.951,-0.309L-0.2245,-0.309Z", "filled": true, "size": 90, "color": "#111111"}},
      "encoding": {
       "x": {"field": "val", "type": "quantitative", "scale": {"type": "log", "domain": [1, 1000]}},
       "y": {"field": "alt", "type": "quantitative", "scale": {"domain": [-2, 122]}},
       "order": {"field": "alt", "type": "quantitative"}}}
    ]},
   {"title": "HDO Vertical Resolution", "width": 253, "height": 298, "data": {"name": "hdoR"},
    "mark": {"type": "line", "clip": true, "strokeWidth": 1.3},
    "encoding": {
     "x": {"field": "val", "type": "quantitative", "scale": {"domain": [0, 12]}, "axis": {"title": "Resolution (km)", "values": [0,0.5,1,1.5,2,2.5,3,3.5,4,4.5,5,5.5,6,6.5,7,7.5,8,8.5,9,9.5,10,10.5,11,11.5,12], "format": "~g", "labelExpr": "datum.value % 2 == 0 ? datum.label : ''", "labelPadding": 11, "titlePadding": 4}},
     "y": {"field": "alt", "type": "quantitative", "scale": {"domain": [-2, 122]}, "axis": {"title": null, "values": [0,5,10,15,20,25,30,35,40,45,50,55,60,65,70,75,80,85,90,95,100,105,110,115,120], "labelExpr": "datum.value % 20 == 0 ? datum.label : ''"}},
     "color": {"field": "series", "type": "nominal", "scale": {"domain": ["Atm. Conc.","335GHz","450GHz","550GHz","900GHz","1000GHz","1130GHz"], "range": ["#222222","#3c3c9c","#3f8cf0","#2fe3e0","#fbab58","#f5703f","#b03a3a"]}, "legend": null},
     "order": {"field": "alt", "type": "quantitative"}}}
  ]},
  {"width": 586, "height": 16, "view": {"stroke": null}, "data": {"name": "legendItems"},
   "mark": {"type": "text", "fontSize": 15},
   "encoding": {
    "x": {"field": "series", "type": "nominal", "sort": null, "scale": {"type": "point", "domain": ["Atm. Conc.","335GHz","450GHz","550GHz","900GHz","1000GHz","1130GHz"], "padding": 0.855}, "axis": null},
    "text": {"field": "series"},
    "color": {"field": "series", "type": "nominal", "scale": {"domain": ["Atm. Conc.","335GHz","450GHz","550GHz","900GHz","1000GHz","1130GHz"], "range": ["#222222","#3c3c9c","#3f8cf0","#2fe3e0","#fbab58","#f5703f","#b03a3a"]}, "legend": null}}}
 ]}
]
}
